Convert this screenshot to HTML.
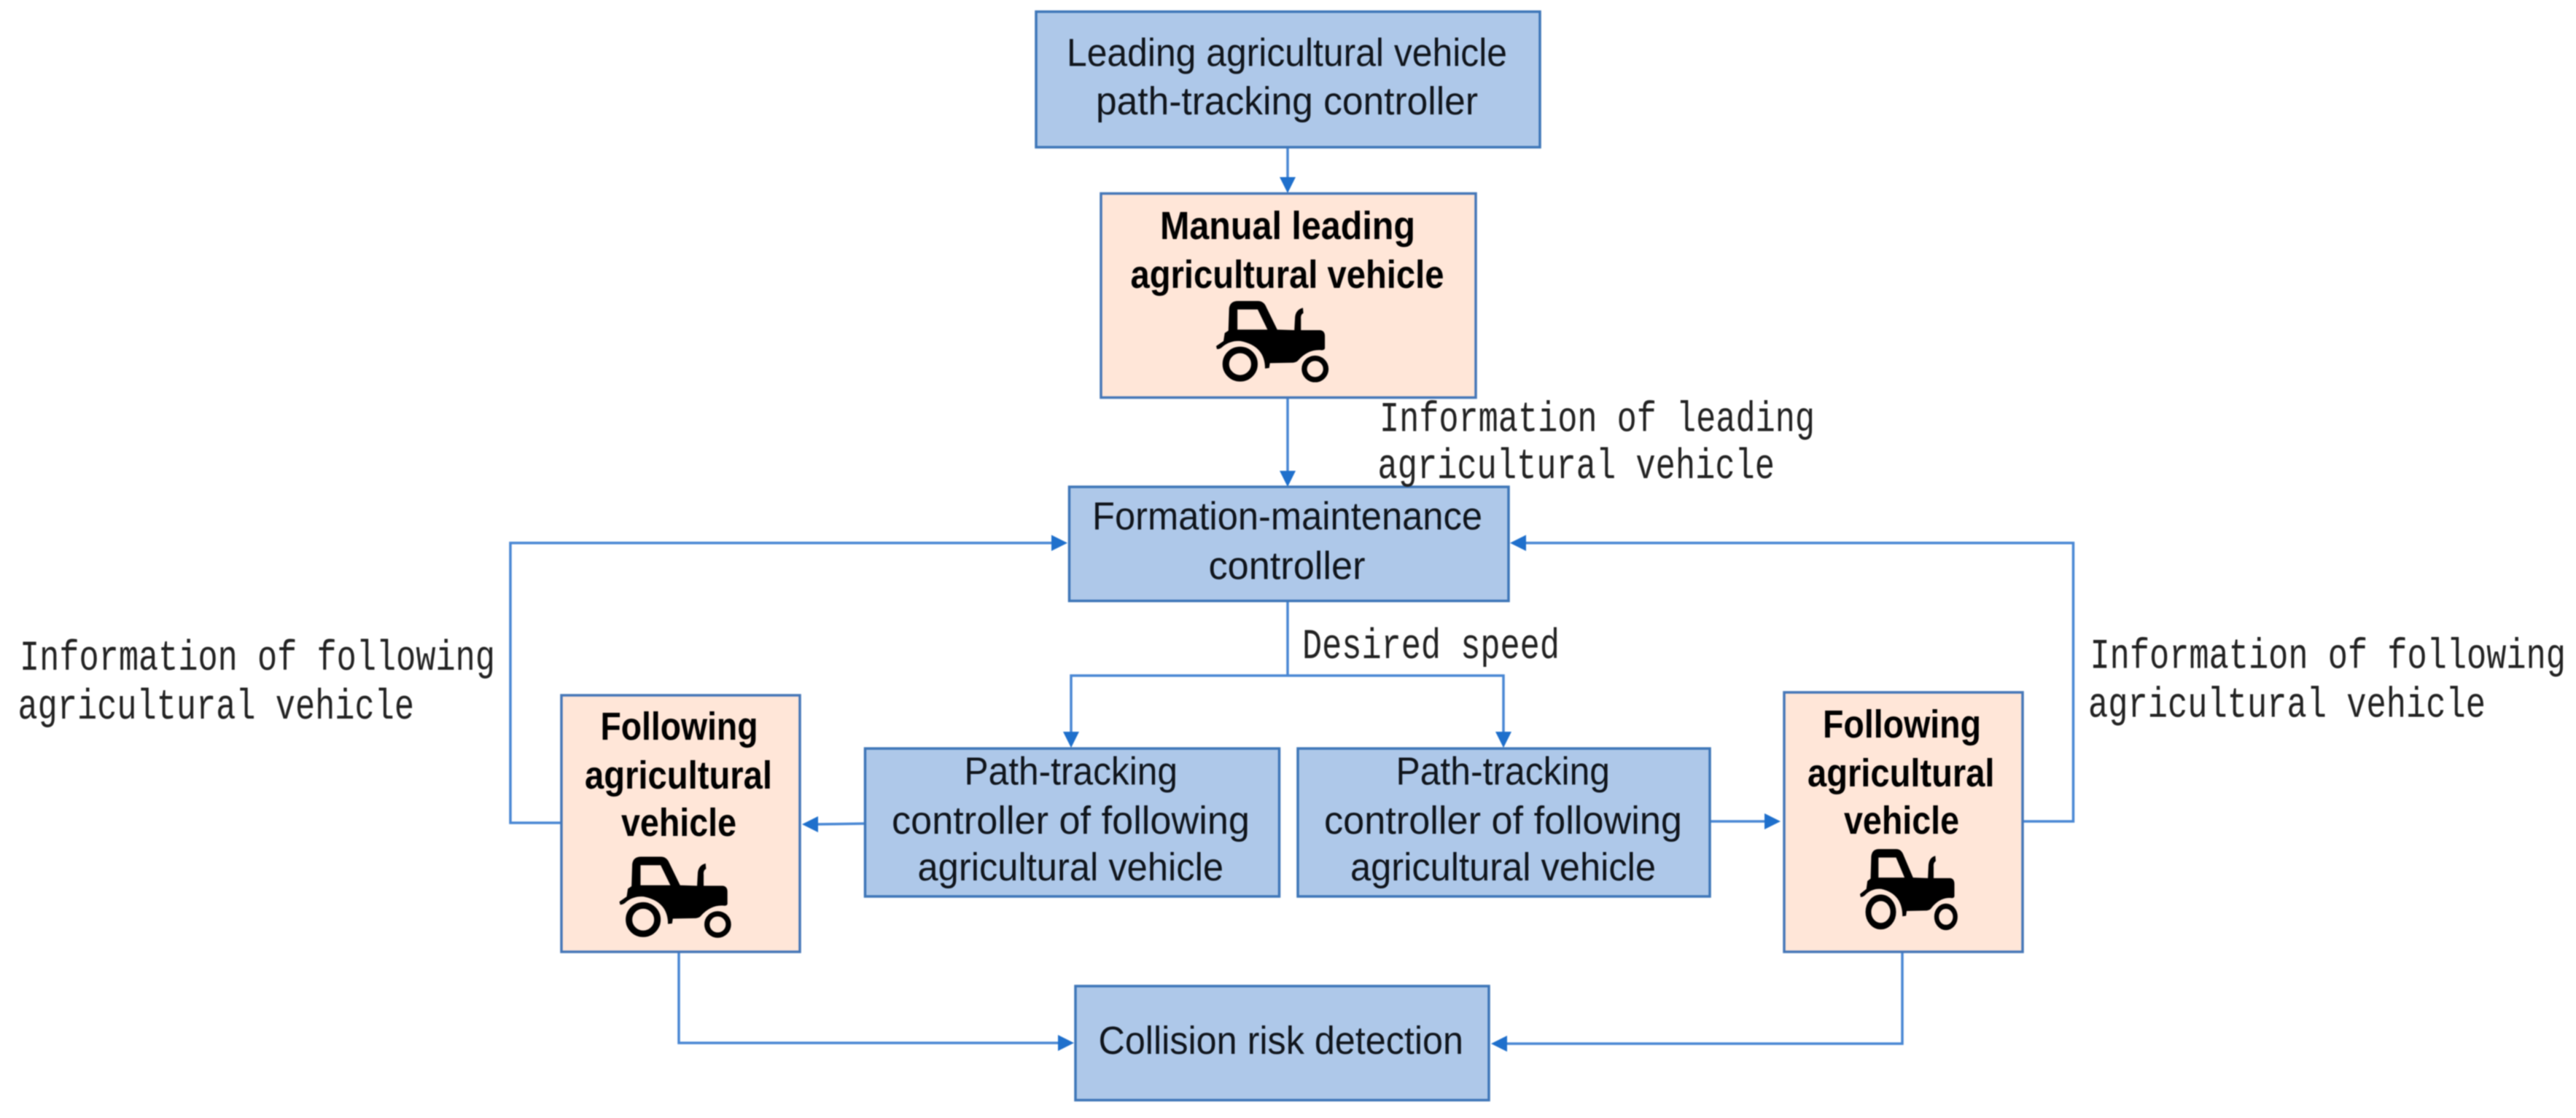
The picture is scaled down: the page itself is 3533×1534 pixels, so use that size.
<!DOCTYPE html>
<html>
<head>
<meta charset="utf-8">
<style>
html,body{margin:0;padding:0;background:#fff;width:3533px;height:1534px;overflow:hidden}
svg{display:block;filter:blur(0.9px)}
.b{fill:#AEC8E9;stroke:#3E76B8;stroke-width:3.5}
.p{fill:#FFE6D8;stroke:#4677B8;stroke-width:3.5}
.l{fill:none;stroke:#4A88D4;stroke-width:3.5}
.a{fill:#1F70CC}
.t{font-family:"Liberation Sans",sans-serif;font-size:54px;fill:#10151c}
.h{font-family:"Liberation Sans",sans-serif;font-size:54px;font-weight:bold;fill:#000}
.m{font-family:"Liberation Mono",monospace;font-size:58px;fill:#222}
</style>
</head>
<body>
<svg width="3533" height="1534" viewBox="0 0 3533 1534" xmlns="http://www.w3.org/2000/svg">
<rect width="3533" height="1534" fill="#fff"/>

<!-- connectors -->
<path class="l" d="M1766 202V245"/>
<path class="l" d="M1766 545V648"/>
<path class="l" d="M770 1129H700V745H1445"/>
<path class="l" d="M2774 1127H2843.5V745H2090"/>
<path class="l" d="M1766 824V927"/>
<path class="l" d="M1469 1006V927H2062V1006"/>
<path class="l" d="M1186 1130L1120 1131"/>
<path class="l" d="M2345 1127H2422"/>
<path class="l" d="M931 1306V1431H1452"/>
<path class="l" d="M2609 1306V1432H2066"/>

<!-- arrowheads -->
<polygon class="a" points="1755,243 1777,243 1766,265"/>
<polygon class="a" points="1755,646 1777,646 1766,668"/>
<polygon class="a" points="1442,734 1442,756 1464,745"/>
<polygon class="a" points="2093,734 2093,756 2071,745"/>
<polygon class="a" points="1458,1004 1480,1004 1469,1026"/>
<polygon class="a" points="2051,1004 2073,1004 2062,1026"/>
<polygon class="a" points="1122,1120 1122,1142 1100,1131"/>
<polygon class="a" points="2420,1116 2420,1138 2442,1127"/>
<polygon class="a" points="1451,1420 1451,1442 1473,1431"/>
<polygon class="a" points="2067,1421 2067,1443 2045,1432"/>

<!-- boxes -->
<rect class="b" x="1421" y="16" width="691" height="186"/>
<rect class="p" x="1510" y="265.5" width="514" height="280"/>
<rect class="b" x="1466.5" y="668" width="602.5" height="156.5"/>
<rect class="p" x="770" y="954" width="327" height="352"/>
<rect class="p" x="2447" y="950" width="327" height="356"/>
<rect class="b" x="1186.5" y="1027" width="568" height="203"/>
<rect class="b" x="1780" y="1027" width="565" height="203"/>
<rect class="b" x="1475" y="1353" width="567" height="156.5"/>

<!-- tractors -->
<defs>
<g id="tr">
<path fill="#000" fill-rule="evenodd" d="M180 232 L195 222 L198 130 Q202 100 235 100 L315 100 Q340 100 350 125 L395 218 L465 220 L468 165 Q472 135 500 128 L502 150 Q490 155 492 175 L492 220 L570 220 Q590 222 590 245 L590 295 Q588 305 570 302 Q520 300 480 345 Q475 352 460 354 L365 356 L362 376 L345 378 Q345 285 245 265 Q205 262 175 285 Q160 300 148 298 L145 286 L175 265 Z M232 135 L232 218 L355 218 L315 135 Z"/>
<circle cx="243" cy="360" r="58.5" fill="none" stroke="#000" stroke-width="27"/>
<circle cx="550" cy="380" r="44" fill="none" stroke="#000" stroke-width="22"/>
</g>
</defs>
<use href="#tr" transform="translate(1668 412) scale(.335 .333) translate(-145 -97)"/>
<use href="#tr" transform="translate(849.5 1174.5) scale(.333 .332) translate(-145 -97)"/>
<use href="#tr" transform="translate(2551 1164) scale(.291 .332) translate(-145 -97)"/>

<!-- box text -->
<text class="t" x="1463" y="90.5" textLength="604" lengthAdjust="spacingAndGlyphs">Leading agricultural vehicle</text>
<text class="t" x="1503" y="157" textLength="524" lengthAdjust="spacingAndGlyphs">path-tracking controller</text>

<text class="h" x="1591" y="328" textLength="350" lengthAdjust="spacingAndGlyphs">Manual leading</text>
<text class="h" x="1550.5" y="395" textLength="430" lengthAdjust="spacingAndGlyphs">agricultural vehicle</text>

<text class="t" x="1498" y="726.5" textLength="535" lengthAdjust="spacingAndGlyphs">Formation-maintenance</text>
<text class="t" x="1657.5" y="794.5" textLength="215" lengthAdjust="spacingAndGlyphs">controller</text>

<text class="h" x="823.5" y="1015" textLength="216" lengthAdjust="spacingAndGlyphs">Following</text>
<text class="h" x="802" y="1082" textLength="257" lengthAdjust="spacingAndGlyphs">agricultural</text>
<text class="h" x="852" y="1147" textLength="158" lengthAdjust="spacingAndGlyphs">vehicle</text>

<text class="h" x="2500" y="1012" textLength="217" lengthAdjust="spacingAndGlyphs">Following</text>
<text class="h" x="2479" y="1079" textLength="256.5" lengthAdjust="spacingAndGlyphs">agricultural</text>
<text class="h" x="2529" y="1144" textLength="158" lengthAdjust="spacingAndGlyphs">vehicle</text>

<text class="t" x="1322.5" y="1076.5" textLength="292.5" lengthAdjust="spacingAndGlyphs">Path-tracking</text>
<text class="t" x="1223" y="1144" textLength="491" lengthAdjust="spacingAndGlyphs">controller of following</text>
<text class="t" x="1258.5" y="1208" textLength="419.5" lengthAdjust="spacingAndGlyphs">agricultural vehicle</text>

<text class="t" x="1914.5" y="1076.5" textLength="293.5" lengthAdjust="spacingAndGlyphs">Path-tracking</text>
<text class="t" x="1816" y="1144" textLength="491" lengthAdjust="spacingAndGlyphs">controller of following</text>
<text class="t" x="1852" y="1208" textLength="419" lengthAdjust="spacingAndGlyphs">agricultural vehicle</text>

<text class="t" x="1506.5" y="1446" textLength="500.5" lengthAdjust="spacingAndGlyphs">Collision risk detection</text>

<!-- connector labels -->
<text class="m" x="1892" y="591.5" textLength="597" lengthAdjust="spacingAndGlyphs">Information of leading</text>
<text class="m" x="1889.5" y="656" textLength="544.5" lengthAdjust="spacingAndGlyphs">agricultural vehicle</text>
<text class="m" x="1786" y="903" textLength="353" lengthAdjust="spacingAndGlyphs">Desired speed</text>
<text class="m" x="27" y="919" textLength="652" lengthAdjust="spacingAndGlyphs">Information of following</text>
<text class="m" x="24.5" y="986" textLength="543.5" lengthAdjust="spacingAndGlyphs">agricultural vehicle</text>
<text class="m" x="2866.5" y="916.5" textLength="652.5" lengthAdjust="spacingAndGlyphs">Information of following</text>
<text class="m" x="2864" y="983.5" textLength="545" lengthAdjust="spacingAndGlyphs">agricultural vehicle</text>
</svg>
</body>
</html>
